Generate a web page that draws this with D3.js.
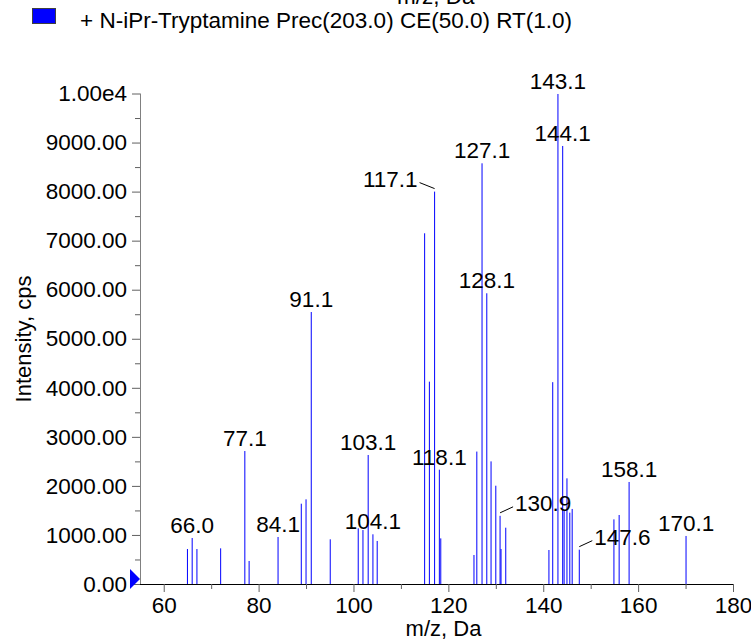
<!DOCTYPE html>
<html>
<head>
<meta charset="utf-8">
<script src="https://cdn.jsdelivr.net/npm/d3@7"></script>
<style>
  body { margin: 0; background: #fff; }
  svg { font-family: "Liberation Sans", Arial, sans-serif; }
  .tick text { font-size: 22.5px; fill: #000; }
</style>
</head>
<body>
<svg width="751" height="641"></svg>
<script>
// Peak list
const mz = [65.0, 66.0, 67.0, 72.0, 77.1, 78.0, 84.1, 89.0, 90.0, 91.1, 95.1,
  101.0, 102.0, 103.1, 104.1, 105.0, 115.0, 116.0, 117.1, 118.1, 118.4,
  125.4, 126.0, 127.1, 128.1, 129.0, 130.0, 130.9, 131.1, 132.1,
  141.2, 142.0, 143.1, 144.1, 144.4, 145.0, 145.6, 146.1, 147.6,
  154.9, 156.0, 158.1, 170.1];
const intensity = [713, 938, 713, 727, 2711, 469, 958, 1637, 1726, 5545, 911,
  1135, 1100, 2630, 1013, 877, 7150, 4125, 8000, 2330, 930,
  591, 2700, 8577, 5927, 2500, 2004, 1390, 713, 1148,
  693, 4115, 9990, 8930, 1500, 2154, 1454, 1530, 700,
  1318, 1407, 2080, 979];

// Labelled peaks and where the label sits
const labelMz = [66.0, 77.1, 84.1, 91.1, 103.1, 104.1, 117.1, 118.1, 127.1, 128.1,
  130.9, 143.1, 144.1, 147.6, 158.1, 170.1];
const labelSide = ["top", "top", "top", "top", "top", "top", "left", "top", "top", "top",
  "right", "top", "top", "right", "top", "top"];

const xTicks = [60, 80, 100, 120, 140, 160, 180];
const yTicks = [0, 1000, 2000, 3000, 4000, 5000, 6000, 7000, 8000, 9000, 10000];

const svg = d3.select("svg");

const x = d3.scaleLinear().domain([55, 180]).range([140, 733]);
const y = d3.scaleLinear().domain([0, 10000]).range([584, 93.5]);

// Legend
svg.append("rect")
  .attr("x", 32.5).attr("y", 8.5).attr("width", 23).attr("height", 15)
  .attr("fill", "#0000ff").attr("stroke", "#404040").attr("stroke-width", 1);
svg.append("text")
  .attr("x", 80).attr("y", 28)
  .attr("font-size", 22.5)
  .text("+ N-iPr-Tryptamine Prec(203.0) CE(50.0) RT(1.0)");

// cut-off title of the panel above
svg.append("text")
  .attr("x", 397).attr("y", 4)
  .attr("font-size", 22.5)
  .text("m/z, Da");

// Peaks
svg.append("g")
  .selectAll("line")
  .data(mz)
  .enter()
  .append("line")
  .attr("x1", d => x(d)).attr("x2", d => x(d))
  .attr("y1", y(0))
  .attr("y2", (d, i) => y(intensity[i]))
  .attr("stroke", "#0000ff")
  .attr("stroke-width", 1);

// X axis
const xAxis = svg.append("g")
  .attr("transform", `translate(0,${y(0)})`)
  .call(d3.axisBottom(x).tickValues(xTicks).tickSize(8).tickPadding(5).tickFormat(d3.format("d")));
svg.append("g")
  .attr("transform", `translate(0,${y(0)})`)
  .call(d3.axisBottom(x).tickValues(d3.range(70, 180, 20)).tickSize(5).tickFormat(""))
  .select(".domain").remove();
xAxis.select(".domain").attr("d", `M${x(55)},0.5H${x(180)}`).attr("stroke", "#000");

// Y axis
const yAxis = svg.append("g")
  .attr("transform", `translate(${x(55)},0)`)
  .call(d3.axisLeft(y).tickValues(yTicks).tickSize(8).tickPadding(5)
    .tickFormat(d => d === 10000 ? "1.00e4" : d.toFixed(2)));
svg.append("g")
  .attr("transform", `translate(${x(55)},0)`)
  .call(d3.axisLeft(y).tickValues(d3.range(500, 10000, 1000)).tickSize(5).tickFormat(""))
  .select(".domain").remove();
yAxis.select(".domain").attr("d", `M0.5,${y(0)}V${y(10000)}`).attr("stroke", "#808080");
svg.selectAll(".tick line").attr("stroke", "#606060");

// origin marker
const y0 = y(0);
svg.append("path")
  .attr("d", `M${x(55) - 10},${y0 - 15}L${x(55)},${y0 - 5}L${x(55) - 10},${y0 + 5}Z`)
  .attr("fill", "#0000ff");

// Peak labels
const labels = svg.append("g").attr("font-size", 22.5);
labelMz.forEach((m, k) => {
  const i = mz.indexOf(m);
  const px = x(m), py = y(intensity[i]);
  const side = labelSide[k];
  if (side === "top") {
    labels.append("text").attr("x", px).attr("y", py - 5)
      .attr("text-anchor", "middle").text(m.toFixed(1));
  } else if (side === "left") {
    labels.append("line")
      .attr("x1", px - 15).attr("y1", py - 9).attr("x2", px).attr("y2", py - 3)
      .attr("stroke", "#000");
    labels.append("text").attr("x", px - 17).attr("y", py - 5)
      .attr("text-anchor", "end").text(m.toFixed(1));
  } else {
    labels.append("line")
      .attr("x1", px).attr("y1", py - 3).attr("x2", px + 13).attr("y2", py - 9)
      .attr("stroke", "#000");
    labels.append("text").attr("x", px + 15).attr("y", py - 5)
      .text(m.toFixed(1));
  }
});

// Axis titles
svg.append("text")
  .attr("x", (x(55) + x(180)) / 2 + 7).attr("y", 636)
  .attr("text-anchor", "middle").attr("font-size", 22)
  .text("m/z, Da");
svg.append("text")
  .attr("transform", `translate(31,339) rotate(-90)`)
  .attr("text-anchor", "middle").attr("font-size", 22)
  .text("Intensity, cps");
</script>
</body>
</html>
